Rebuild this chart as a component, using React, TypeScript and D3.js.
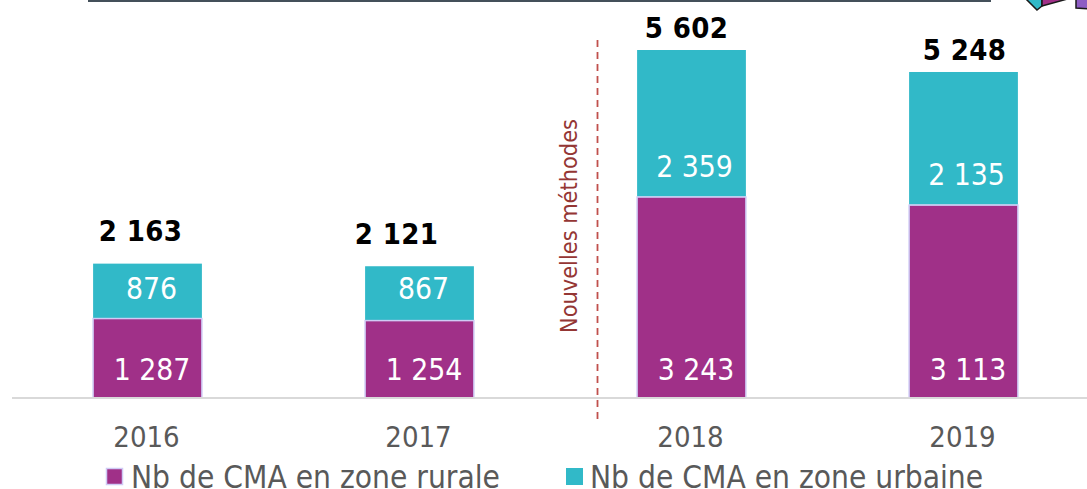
import React from "react";
import * as d3 from "d3";

const years = ["2016", "2017", "2018", "2019"];
const rural = [1287, 1254, 3243, 3113];
const urban = [876, 867, 2359, 2135];
const totals = [2163, 2121, 5602, 5248];
const ruralName = "Nb de CMA en zone rurale";
const urbanName = "Nb de CMA en zone urbaine";
const noteText = "Nouvelles méthodes";

const FONT = "'DejaVu Sans Condensed', 'DejaVu Sans', sans-serif";
const PURPLE = "#A03088";
const TEAL = "#31B9C8";
const EDGE = "#CFCBF5";

const fmt = (v: number) => {
  const s = String(v);
  return s.length > 3 ? s.slice(0, s.length - 3) + " " + s.slice(-3) : s;
};

const urbanLabelY = [299, 299, 177, 185];
const urbanLabelDx = [4, 4, 3, 3];
const totalLabelY = [241, 244, 38, 60];
const totalLabelDx = [-7, -23, -5, 1];

export default function App() {
  const x = d3.scaleBand<string>().domain(years).range([11.5, 1099.5]).paddingInner(0.6).paddingOuter(0.3);
  const y = d3.scaleLinear().domain([0, 5602]).range([398, 50]);
  const w = x.bandwidth();
  return (
    <svg width={1087} height={489} style={{ position: "fixed", left: 0, top: 0, background: "#fff" }} fontFamily={FONT}>
      <line x1={88} x2={991} y1={0.5} y2={0.5} stroke="#44505A" strokeWidth={3} />
      <g stroke="#1a1a1a" strokeWidth={1.5}>
        <polygon points="1025,-2 1037,10 1042,6 1042,-2" fill={TEAL} />
        <polygon points="1042,-2 1042,6 1071,-2" fill={PURPLE} />
        <polygon points="1076,-2 1076,8 1089,9 1089,-2" fill="#8E5CC4" />
      </g>
      {years.map((yr, i) => {
        const x0 = x(yr)!;
        const cx = x0 + w / 2;
        const yMid = y(rural[i]);
        const yTop = y(totals[i]);
        return (
          <g key={yr}>
            <rect x={x0} y={yTop} width={w} height={yMid - yTop} fill={TEAL} />
            <rect x={x0} y={yMid + 0.5} width={w} height={398 - yMid - 0.5} fill={PURPLE} stroke={EDGE} strokeWidth={1.5} />
            <text x={cx + 4.5} y={379.5} textAnchor="middle" fontSize={29.8} fill="#fff">{fmt(rural[i])}</text>
            <text x={cx + urbanLabelDx[i]} y={urbanLabelY[i]} textAnchor="middle" fontSize={29.8} fill="#fff">{fmt(urban[i])}</text>
            <text x={cx + totalLabelDx[i]} y={totalLabelY[i]} textAnchor="middle" fontSize={29} fontWeight={700} fill="#000" letterSpacing={0.4}>{fmt(totals[i])}</text>
            <text x={cx - 1} y={447} textAnchor="middle" fontSize={29} fill="#595959">{yr}</text>
          </g>
        );
      })}
      <line x1={12} x2={1087} y1={398} y2={398} stroke="#D9D9D9" strokeWidth={2} />
      <line x1={597.5} x2={597.5} y1={40} y2={422} stroke="#C0504D" strokeWidth={1.8} strokeDasharray="7 5" />
      <text transform="translate(577,333) rotate(-90)" fontSize={23.3} fill="#943634">{noteText}</text>
      <rect x={106.5} y={468.5} width={16} height={16} fill={PURPLE} stroke={EDGE} strokeWidth={1.5} />
      <text x={131} y={488} fontSize={31.4} fill="#595959">{ruralName}</text>
      <rect x={566} y={468} width={17} height={17} fill={TEAL} />
      <text x={590} y={488} fontSize={31.4} fill="#595959">{urbanName}</text>
    </svg>
  );
}
